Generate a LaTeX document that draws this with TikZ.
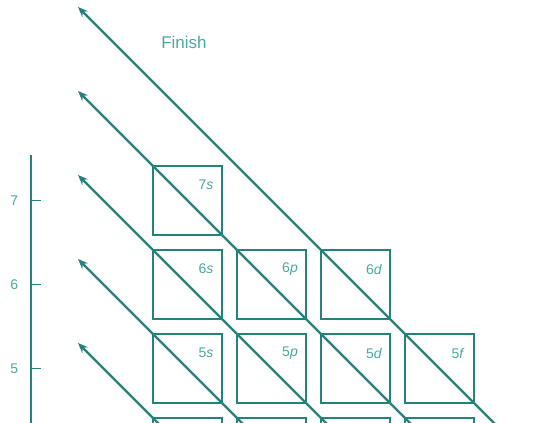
\documentclass[tikz,border=0pt]{standalone}
\usepackage{fontspec}
\setmainfont{Liberation Sans}
\usepackage{xcolor}
\definecolor{LineTeal}{HTML}{23827A}
\definecolor{InkTeal}{HTML}{4AA9A0}
\usepackage{tikz}
\usetikzlibrary{positioning, arrows.meta, calc}

\begin{document}
\begin{tikzpicture}[
    x=1pt, y=-1pt, node distance=15pt and 15pt,
    orb/.style={draw=LineTeal, line width=1.6pt, minimum size=69pt, inner sep=0pt, outer sep=0pt},
    orblab/.style={anchor=center, xshift=-16pt, yshift=-19pt, inner sep=0pt,
        font=\fontsize{14}{16}\selectfont, text=InkTeal},
    diag/.style={-{Stealth[length=10pt, width=8pt]}, line width=2.2pt, LineTeal},
    axis/.style={line width=1.5pt, LineTeal},
    ticklab/.style={inner sep=0pt, font=\fontsize{14}{16}\selectfont, text=InkTeal}
]
\fill[white] (0,0) rectangle (539,423);
\useasboundingbox (0,0) rectangle (539,423);
\clip (0,0) rectangle (539,423);

% orbital boxes
\node[orb, label={[orblab]north east:7\textit{s}}] (o7s) at (187.5,200.5) {};
\node[orb, below=of o7s, label={[orblab]north east:6\textit{s}}] (o6s) {};
\node[orb, right=of o6s, label={[orblab]north east:6\textit{p}}] (o6p) {};
\node[orb, right=of o6p, label={[orblab]north east:6\textit{d}}] (o6d) {};
\node[orb, below=of o6s, label={[orblab]north east:5\textit{s}}] (o5s) {};
\node[orb, right=of o5s, label={[orblab]north east:5\textit{p}}] (o5p) {};
\node[orb, right=of o5p, label={[orblab]north east:5\textit{d}}] (o5d) {};
\node[orb, right=of o5d, label={[orblab]north east:5\textit{f}}] (o5f) {};
\node[orb, below=of o5s] (o4s) {};
\node[orb, right=of o4s] (o4p) {};
\node[orb, right=of o4p] (o4d) {};
\node[orb, right=of o4d] (o4f) {};

\node[ticklab, font=\fontsize{17}{20}\selectfont] (finish) at (184,42) {Finish};

% energy axis
\coordinate (axtop) at (31,155);
\coordinate (axbot) at (31,430);
\draw[axis] (axtop) -- (axbot);
\draw[axis] (axtop |- o7s.center) node[ticklab, left=12pt] (n7) {7} -- ++(10,0);
\draw[axis] (axtop |- o6s.center) node[ticklab, left=12pt] (n6) {6} -- ++(10,0);
\draw[axis] (axtop |- o5s.center) node[ticklab, left=12pt] (n5) {5} -- ++(10,0);

% filling order diagonals
\coordinate (tipA) at ($(o6d.north west)+(-243,-243)$);
\coordinate (tailA) at ($(o6d.north west)+(300,300)$);
\coordinate (tipB) at ($(o7s.north west)+(-75,-75)$);
\coordinate (tailB) at ($(o7s.north west)+(400,400)$);
\coordinate (tipC) at ($(o6s.north west)+(-75,-75)$);
\coordinate (tailC) at ($(o6s.north west)+(300,300)$);
\coordinate (tipD) at ($(o5s.north west)+(-75,-75)$);
\coordinate (tailD) at ($(o5s.north west)+(200,200)$);
\coordinate (tipE) at ($(o4s.north west)+(-75,-75)$);
\coordinate (tailE) at ($(o4s.north west)+(100,100)$);
\draw[diag] (tailA) -- (tipA);
\draw[diag] (tailB) -- (tipB);
\draw[diag] (tailC) -- (tipC);
\draw[diag] (tailD) -- (tipD);
\draw[diag] (tailE) -- (tipE);
\end{tikzpicture}
\end{document}
